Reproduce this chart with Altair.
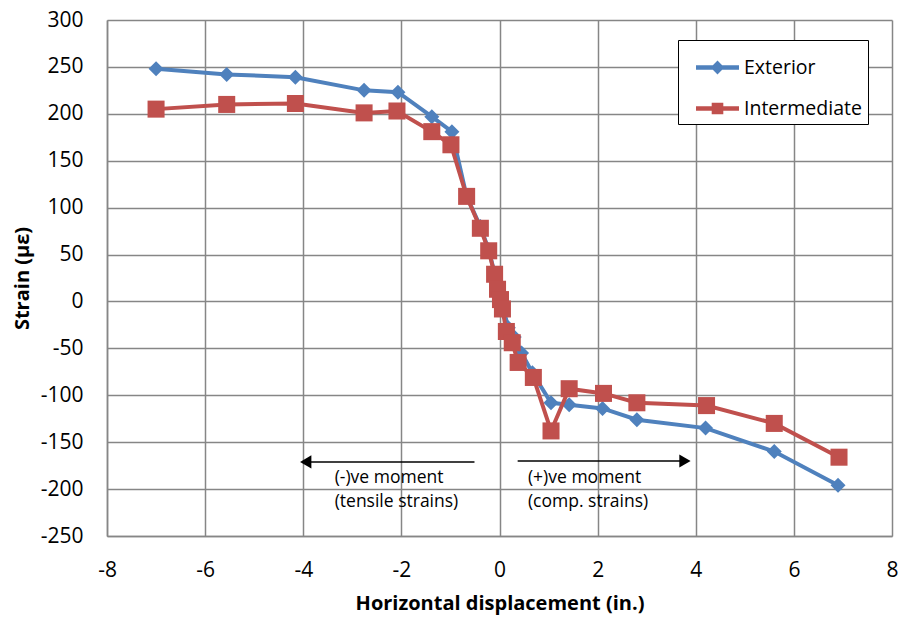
import altair as alt
import pandas as pd

# Exterior series
ext_x = [-7.0, -5.56, -4.16, -2.76, -2.07, -1.38, -0.97, -0.67, -0.39, -0.22, -0.10, -0.04, 0.02, 0.08, 0.18, 0.30, 0.45, 0.67, 1.05, 1.42, 2.10, 2.80, 4.20, 5.60, 6.90]
ext_y = [248, 242, 239, 225, 223, 197, 181, 112, 80, 55, 30, 14, 3, -8, -28, -38, -55, -76, -108, -110, -114, -126, -135, -160, -196]

# Intermediate series
int_x = [-7.0, -5.56, -4.16, -2.76, -2.09, -1.38, -0.99, -0.67, -0.39, -0.22, -0.10, -0.04, 0.02, 0.06, 0.14, 0.26, 0.38, 0.69, 1.05, 1.42, 2.12, 2.80, 4.22, 5.60, 6.92]
int_y = [205, 210, 211, 201, 203, 181, 167, 112, 78, 54, 29, 13, 2, -8, -32, -44, -65, -81, -138, -93, -98, -108, -111, -130, -166]

series_names = ["Exterior", "Intermediate"]
series_colors = ["#4F81BD", "#C0504D"]

x_ticks = [-8, -6, -4, -2, 0, 2, 4, 6, 8]
y_ticks = [-250, -200, -150, -100, -50, 0, 50, 100, 150, 200, 250, 300]

# Annotation arrows and labels
arrow_left = {"x": -0.51, "x2": -3.95, "y": -171}
arrow_right = {"x": 0.37, "x2": 3.78, "y": -170}
notes_x = [-3.36, -3.36, 0.58, 0.58]
notes_y = [-188, -214, -188, -214]
notes_text = ["(-)ve moment", "(tensile strains)", "(+)ve moment", "(comp. strains)"]

FONT = "Open Sans"
LABEL_EXPR = "datum.value < 0 ? '-' + abs(datum.value) : '' + datum.value"

ext_df = pd.DataFrame({"x": ext_x, "y": ext_y, "series": "Exterior", "i": range(len(ext_x))})
int_df = pd.DataFrame({"x": int_x, "y": int_y, "series": "Intermediate", "i": range(len(int_x))})

xs = alt.Scale(domain=[-8, 8], nice=False, zero=False)
ys = alt.Scale(domain=[-250, 300], nice=False, zero=False)
cs = alt.Scale(domain=series_names, range=series_colors)

x_enc = alt.X("x:Q", scale=xs, axis=alt.Axis(values=x_ticks, title="Horizontal displacement (in.)",
                                             labelExpr=LABEL_EXPR, labelFlush=False))
y_enc = alt.Y("y:Q", scale=ys, axis=alt.Axis(values=y_ticks, title="Strain (με)",
                                             labelExpr=LABEL_EXPR, labelFlush=False))


def series_layers(df, shape, size):
    base = alt.Chart(df).encode(
        x=x_enc, y=y_enc,
        color=alt.Color("series:N", scale=cs, legend=None),
        order="i:Q",
    )
    line = base.mark_line(strokeWidth=4)
    pts = base.mark_point(shape=shape, size=size, filled=True, opacity=1)
    return [line, pts]


layers = series_layers(ext_df, "diamond", 225) + series_layers(int_df, "square", 290)

# legend-only layer (no data rows drawn)
leg_df = pd.DataFrame({"series": series_names, "x": [0, 0], "y": [0, 0]})
diamond_path = "M-1,-0.1L1,-0.1L1,0.1L-1,0.1Z M0,-0.32L0.32,0L0,0.32L-0.32,0Z"
square_path = "M-1,-0.1L1,-0.1L1,0.1L-1,0.1Z M-0.27,-0.27L0.27,-0.27L0.27,0.27L-0.27,0.27Z"
leg = alt.Legend(
    title=None, orient="none", legendX=571, legendY=20,
    strokeColor="black", fillColor="white", padding=6,
    symbolSize=1849, symbolOffset=12, labelOffset=5,
    labelFont=FONT, labelFontSize=19.5, labelColor="black",
    rowPadding=10, symbolStrokeWidth=0,
)
legend_layer = alt.Chart(leg_df).transform_filter("datum.x > 100").mark_point(filled=True, opacity=1).encode(
    x=alt.X("x:Q", scale=xs),
    y=alt.Y("y:Q", scale=ys),
    color=alt.Color("series:N", scale=cs, legend=leg),
    shape=alt.Shape(
        "series:N",
        scale=alt.Scale(domain=series_names, range=[diamond_path, square_path]),
        legend=leg,
    ),
)

ann_df = pd.DataFrame([arrow_left, arrow_right])
arrows = alt.Chart(ann_df).mark_rule(color="black", strokeWidth=1.5).encode(
    x=alt.X("x:Q", scale=xs), x2="x2:Q", y=alt.Y("y:Q", scale=ys)
)
heads_df = pd.DataFrame({"x": [arrow_left["x2"], arrow_right["x2"]],
                         "y": [arrow_left["y"], arrow_right["y"]],
                         "dir": ["left", "right"]})
heads = alt.Chart(heads_df).mark_point(filled=True, color="black", opacity=1, size=170).encode(
    x=alt.X("x:Q", scale=xs), y=alt.Y("y:Q", scale=ys),
    shape=alt.Shape("dir:N", scale=alt.Scale(domain=["left", "right"], range=["triangle-left", "triangle-right"]), legend=None),
)
notes_df = pd.DataFrame({"x": notes_x, "y": notes_y, "t": notes_text})
notes = alt.Chart(notes_df).mark_text(align="left", baseline="middle", font=FONT, fontSize=17.5, color="black").encode(
    x=alt.X("x:Q", scale=xs), y=alt.Y("y:Q", scale=ys), text="t:N"
)

chart = alt.layer(*layers, arrows, heads, notes, legend_layer).resolve_scale(
    shape="independent", color="independent"
).properties(
    width=785, height=516,
    autosize=alt.AutoSizeParams(type="none"),
    padding={"left": 99, "top": 12, "right": 7, "bottom": 80},
).configure_view(stroke=None).configure_axis(
    gridColor="#868686", gridWidth=1.5, domainColor="#868686", domainWidth=1.5,
    ticks=False,
    labelFont=FONT, labelFontSize=21, labelColor="black",
    titleFont=FONT, titleFontSize=20, titleFontWeight="bold", titleColor="black",
).configure_axisX(labelPadding=23, titlePadding=13).configure_axisY(labelPadding=24, titlePadding=8)

chart.save("out.html", embed_options={"renderer": "svg", "actions": False})
